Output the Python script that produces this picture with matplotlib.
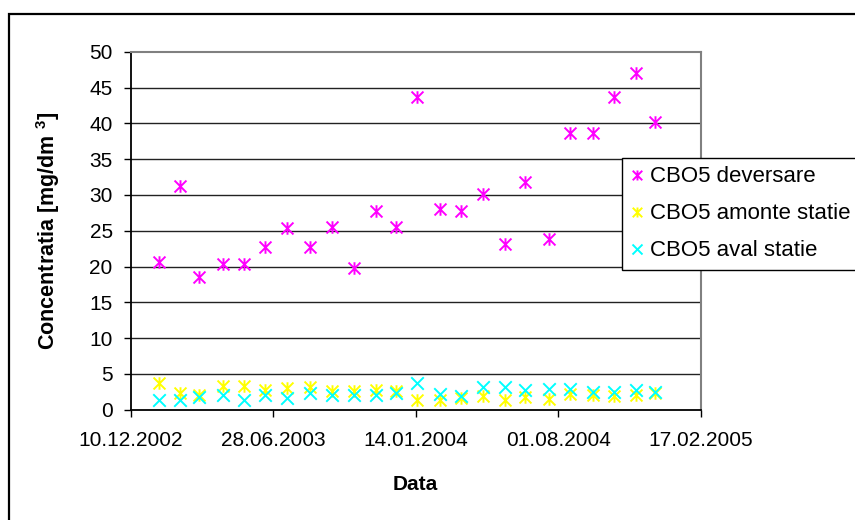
import matplotlib
matplotlib.use("Agg")
import matplotlib.pyplot as plt
import matplotlib.dates as mdates
from matplotlib.path import Path
from matplotlib.patches import Rectangle
import datetime as dt

plt.rcParams['font.family'] = ['Liberation Sans', 'DejaVu Sans']
plt.rcParams['mathtext.default'] = 'regular'

dates = ["2003-01-19", "2003-02-17", "2003-03-16", "2003-04-19", "2003-05-18", "2003-06-17",
         "2003-07-17", "2003-08-19", "2003-09-18", "2003-10-20", "2003-11-19", "2003-12-17",
         "2004-01-16", "2004-02-17", "2004-03-18", "2004-04-17", "2004-05-19", "2004-06-16",
         "2004-07-19", "2004-08-18", "2004-09-19", "2004-10-19", "2004-11-18", "2004-12-15"]
deversare = [20.6, 31.3, 18.6, 20.3, 20.3, 22.8, 25.4, 22.8, 25.5, 19.8, 27.8, 25.5,
             43.7, 28.1, 27.8, 30.1, 23.1, 31.8, 23.8, 38.7, 38.7, 43.7, 47.0, 40.2]
amonte = [3.8, 2.4, 2.0, 3.3, 3.3, 2.8, 3.1, 3.2, 2.6, 2.6, 2.8, 2.6,
          1.4, 1.3, 1.7, 1.9, 1.4, 1.8, 1.5, 2.2, 2.0, 1.9, 2.0, 2.3]
aval = [1.4, 1.4, 1.8, 2.0, 1.4, 2.1, 1.7, 2.4, 2.0, 2.0, 2.0, 2.4,
        3.7, 2.2, 1.9, 3.2, 3.2, 2.7, 2.9, 2.9, 2.5, 2.5, 2.8, 2.5]
labels = ["CBO5 deversare", "CBO5 amonte statie", "CBO5 aval statie"]
x_ticks = ["2002-12-10", "2003-06-28", "2004-01-14", "2004-08-01", "2005-02-17"]
y_ticks = [0, 5, 10, 15, 20, 25, 30, 35, 40, 45, 50]

to_d = lambda s: dt.datetime.strptime(s, "%Y-%m-%d")
xd = [to_d(s) for s in dates]
xt = [to_d(s) for s in x_ticks]

star = Path([(-1, -1), (1, 1), (-1, 1), (1, -1), (0, -1.05), (0, 1.05)],
            [Path.MOVETO, Path.LINETO, Path.MOVETO, Path.LINETO, Path.MOVETO, Path.LINETO])
cross = Path([(-1, -1), (1, 1), (-1, 1), (1, -1)],
             [Path.MOVETO, Path.LINETO, Path.MOVETO, Path.LINETO])

fig = plt.figure(figsize=(8.55, 5.2), dpi=100)
top = 1 - 14/520
fig.patches.append(Rectangle((9/855, -0.1), 2.0, top + 0.1,
                             transform=fig.transFigure, fill=False, edgecolor='black',
                             linewidth=1.6, zorder=0))
ax = fig.add_axes([130.7/855, 110.2/520, 570/855, 358.1/520])

fs = 15
ms = 9.0
ax.plot(xd, deversare, linestyle='none', marker=star, markersize=ms, markeredgewidth=1.4,
        color='#FF00FF', label=labels[0])
ax.plot(xd, amonte, linestyle='none', marker=star, markersize=ms, markeredgewidth=1.4,
        color='#FFFF00', label=labels[1])
ax.plot(xd, aval, linestyle='none', marker=cross, markersize=ms, markeredgewidth=1.4,
        color='#00FFFF', label=labels[2])

ax.set_xlim(xt[0], xt[-1])
ax.set_ylim(0, 50)
ax.set_xticks(xt)
ax.xaxis.set_major_formatter(mdates.DateFormatter('%d.%m.%Y'))
ax.set_yticks(y_ticks)
ax.tick_params(axis='both', labelsize=fs, direction='out', length=5, width=1, color='black')
ax.tick_params(axis='x', pad=10)
ax.tick_params(axis='y', pad=8)

for v in y_ticks[1:-1]:
    ax.axhline(v, color='#222222', linewidth=1.0, zorder=0)

ax.spines['left'].set_color('black')
ax.spines['bottom'].set_color('black')
ax.spines['left'].set_linewidth(1.3)
ax.spines['bottom'].set_linewidth(1.3)
ax.spines['top'].set_color('#808080')
ax.spines['right'].set_color('#808080')
ax.spines['top'].set_linewidth(1.5)
ax.spines['right'].set_linewidth(1.5)

ax.set_xlabel("Data", fontsize=fs, fontweight='bold', va='center')
ax.xaxis.set_label_coords(0.5, -(484 - 409.8) / 358.1)
ax.set_ylabel("Concentratia [mg/dm $^{3}$]", fontsize=15.5, fontweight='bold', va='center')
ax.yaxis.set_label_coords((48 - 130.7) / 570, 0.5)

leg = ax.legend(loc='upper left', bbox_to_anchor=(622/855, (520 - 158)/520),
                bbox_transform=fig.transFigure, fontsize=16, frameon=True, fancybox=False,
                edgecolor='black', framealpha=1, handlelength=0.6, handletextpad=0.3,
                labelspacing=0.72, borderpad=0.38, borderaxespad=0, markerscale=0.8)
leg.get_frame().set_linewidth(1.0)

fig.savefig("out.png", dpi=100)
